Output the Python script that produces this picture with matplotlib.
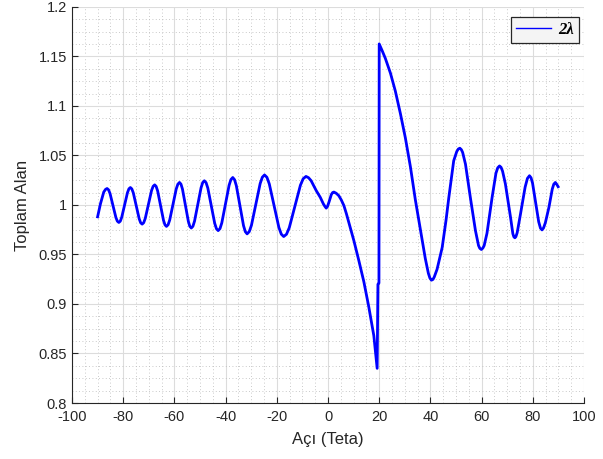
import matplotlib
matplotlib.use("Agg")
import matplotlib.pyplot as plt
from matplotlib.ticker import AutoMinorLocator

# Total field versus angle (degrees)
angle = [
    -90.0, -89.5, -88.9, -87.6, -86.9, -86.3,
    -85.73, -85.15, -84.0, -82.85, -82.28, -81.7,
    -81.14, -80.58, -79.45, -78.33, -77.76, -77.2,
    -76.63, -76.05, -74.9, -73.75, -73.18, -72.6,
    -71.99, -71.38, -70.15, -68.93, -68.31, -67.7,
    -67.13, -66.55, -65.4, -64.25, -63.68, -63.1,
    -62.46, -61.83, -60.55, -59.28, -58.64, -58.0,
    -57.43, -56.85, -55.7, -54.55, -53.98, -53.4,
    -52.76, -52.13, -50.85, -49.58, -48.94, -48.3,
    -47.63, -46.95, -45.6, -44.25, -43.58, -42.9,
    -42.19, -41.48, -40.05, -38.63, -37.91, -37.2,
    -36.5, -35.8, -34.4, -33.0, -32.3, -31.6,
    -30.75, -29.9, -28.2, -26.5, -25.65, -24.8,
    -23.86, -22.93, -21.05, -19.18, -18.24, -17.3,
    -16.21, -15.13, -12.95, -10.78, -9.69, -8.6,
    -7.6, -6.6, -4.6, -3.0, -1.8, -1.2, -0.7, -0.2, 0.4, 1.3, 1.8, 2.3,
    3.2, 4.2, 5.2, 6.2, 7.2, 8.1, 10.1, 12.0, 14.0, 15.9, 17.9,
    19.2, 19.5, 19.9, 20.0,
    21.2, 22.4, 24.4, 26.3, 28.3, 30.2, 32.2, 34.1, 36.1, 38.0,
    39.2, 39.8, 40.4, 41.0, 41.5, 42.6, 44.6, 46.1, 47.2, 49.1,
    50.3, 50.9, 51.5, 52.1, 52.6, 53.7, 55.6, 57.6,
    58.8, 59.3, 59.9, 60.5, 61.0, 62.1, 64.1,
    65.6, 66.3, 67.0, 67.6, 68.2, 69.3, 71.3,
    72.2, 72.6, 73.0, 73.4, 73.9, 75.2,
    77.0, 77.9, 78.7, 79.3, 79.9, 81.0,
    82.3, 83.0, 83.6, 84.2, 84.9, 86.3,
    87.6, 88.2, 88.8, 89.3, 89.9,
]
total_field = [
    0.9880, 0.9940, 1.0010, 1.0130, 1.0157, 1.0166,
    1.0153, 1.0116, 0.9995, 0.9873, 0.9836, 0.9823,
    0.9836, 0.9875, 1.0000, 1.0124, 1.0163, 1.0176,
    1.0162, 1.0122, 0.9991, 0.9860, 0.9820, 0.9806,
    0.9821, 0.9864, 1.0005, 1.0145, 1.0188, 1.0203,
    1.0187, 1.0142, 0.9993, 0.9844, 0.9799, 0.9783,
    0.9800, 0.9848, 1.0005, 1.0162, 1.0210, 1.0227,
    1.0210, 1.0160, 0.9997, 0.9834, 0.9784, 0.9767,
    0.9785, 0.9837, 1.0006, 1.0174, 1.0226, 1.0244,
    1.0225, 1.0171, 0.9993, 0.9814, 0.9760, 0.9741,
    0.9761, 0.9819, 1.0009, 1.0199, 1.0257, 1.0277,
    1.0255, 1.0194, 0.9993, 0.9791, 0.9730, 0.9708,
    0.9731, 0.9795, 1.0006, 1.0216, 1.0280, 1.0303,
    1.0279, 1.0212, 0.9992, 0.9772, 0.9705, 0.9681,
    0.9704, 0.9770, 0.9985, 1.0199, 1.0265, 1.0288,
    1.0275, 1.0245, 1.0145, 1.0076, 1.0010, 0.9985, 0.9968, 0.9985, 1.0030, 1.0105, 1.0125, 1.0130,
    1.0118, 1.0094, 1.0050, 0.9994, 0.9910, 0.9826, 0.9640, 0.9443, 0.9225, 0.8975, 0.8680,
    0.8350, 0.9200, 0.9210, 1.1626,
    1.1555, 1.1480, 1.1330, 1.1150, 1.0920, 1.0680, 1.0384, 1.0055, 0.9747, 0.9460,
    0.9310, 0.9262, 0.9240, 0.9248, 0.9272, 0.9350, 0.9570, 0.9845, 1.0076, 1.0446,
    1.0540, 1.0565, 1.0573, 1.0558, 1.0530, 1.0412, 1.0076, 0.9740,
    0.9590, 0.9562, 0.9550, 0.9565, 0.9590, 0.9714, 1.0076,
    1.0320, 1.0375, 1.0394, 1.0380, 1.0340, 1.0211, 0.9875,
    0.9710, 0.9678, 0.9668, 0.9680, 0.9720, 0.9910,
    1.0180, 1.0268, 1.0295, 1.0275, 1.0220, 1.0043,
    0.9830, 0.9765, 0.9748, 0.9768, 0.9820, 0.9976,
    1.0160, 1.0210, 1.0227, 1.0210, 1.0184,
]
series_label = "2λ"

x_ticks = list(range(-100, 101, 20))
y_ticks = [0.8, 0.85, 0.9, 0.95, 1.0, 1.05, 1.1, 1.15, 1.2]
y_tick_labels = ["0.8", "0.85", "0.9", "0.95", "1", "1.05", "1.1", "1.15", "1.2"]

plt.rcParams["font.family"] = ["Liberation Sans", "DejaVu Sans"]
plt.rcParams["axes.unicode_minus"] = False

fig = plt.figure(figsize=(6.03, 4.59), dpi=100)
ax = fig.add_axes([0.1194, 0.122, 0.8491, 0.863])

ax.plot(angle, total_field, color=(0, 0, 1), lw=2.0, label=series_label,
        solid_joinstyle="round")

ax.set_xlim(-100, 100)
ax.set_ylim(0.8, 1.2)
ax.set_xticks(x_ticks)
ax.set_yticks(y_ticks)
ax.set_yticklabels(y_tick_labels)
ax.xaxis.set_minor_locator(AutoMinorLocator(4))
ax.yaxis.set_minor_locator(AutoMinorLocator(4))

ax.grid(which="major", color="#dcdcdc", lw=0.8, ls="-")
ax.grid(which="minor", color="#b8b8b8", lw=0.6, ls=(0, (1, 3)))
ax.set_axisbelow(True)

for side in ("top", "right"):
    ax.spines[side].set_visible(False)
for side in ("left", "bottom"):
    ax.spines[side].set_color("#262626")
    ax.spines[side].set_linewidth(0.8)

ax.tick_params(which="major", direction="in", length=4, width=0.8,
               color="#262626", labelcolor="#262626", labelsize=10.5)
ax.tick_params(which="minor", length=0)
ax.tick_params(axis="x", pad=5)

ax.set_xlabel("Açı (Teta)", fontsize=12, color="#262626", labelpad=6)
ax.set_ylabel("Toplam Alan", fontsize=12, color="#262626", labelpad=6)

leg = ax.legend(loc="upper right", bbox_to_anchor=(0.99, 0.975),
                prop={"family": "Liberation Serif", "weight": "bold",
                      "style": "italic", "size": 12},
                fancybox=False, framealpha=1, handlelength=2.1,
                borderpad=0.3, handletextpad=0.45, borderaxespad=0.0)
leg.get_frame().set_edgecolor("#262626")
leg.get_frame().set_facecolor("#f4f4f4")
leg.get_frame().set_linewidth(0.9)
for line in leg.get_lines():
    line.set_linewidth(1.0)

fig.savefig("out.png", dpi=100)
